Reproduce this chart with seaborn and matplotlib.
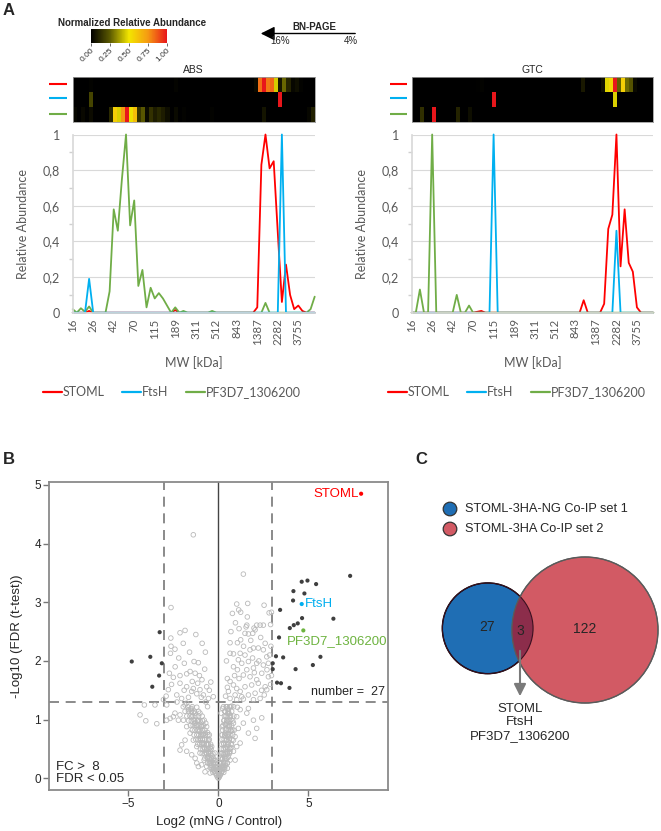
import numpy as np
import pandas as pd
import matplotlib
matplotlib.use("Agg")
import matplotlib.pyplot as plt
import seaborn as sns
from matplotlib.colors import LinearSegmentedColormap, Normalize
from matplotlib.cm import ScalarMappable
from matplotlib.patches import Circle
from matplotlib.lines import Line2D

# ---------------- data ----------------
proteins = ['STOML', 'FtsH', 'PF3D7_1306200']
line_colors = {'STOML': '#ff0000', 'FtsH': '#00b0f0', 'PF3D7_1306200': '#70ad47'}
mw_labels = ['16', '26', '42', '70', '115', '189', '311', '512', '843', '1387', '2282', '3755']
cbar_labels = ['0.00', '0.25', '0.50', '0.75', '1.00']

# 60 BN-PAGE fractions, relative abundance
abs_stoml = [0, 0, 0, 0, 0.01, 0, 0, 0, 0, 0,
             0, 0, 0, 0, 0, 0, 0, 0, 0, 0,
             0, 0, 0, 0, 0, 0.015, 0, 0, 0, 0,
             0, 0, 0, 0, 0, 0, 0, 0, 0, 0,
             0, 0, 0, 0, 0, 0.03, 0.83, 1.0, 0.81, 0.85,
             0.45, 0.06, 0.27, 0.10, 0.02, 0.04, 0.01, 0, 0, 0]
abs_ftsh = [0, 0, 0, 0, 0.19, 0, 0, 0, 0, 0,
            0, 0, 0, 0, 0, 0, 0, 0, 0, 0,
            0, 0, 0, 0, 0, 0, 0, 0, 0, 0,
            0, 0, 0, 0, 0, 0, 0, 0, 0, 0,
            0, 0, 0, 0, 0, 0, 0, 0, 0, 0,
            0, 1.0, 0, 0, 0, 0, 0, 0, 0, 0]
abs_pf = [0.02, 0, 0.025, 0.005, 0.035, 0, 0, 0, 0, 0.12,
          0.58, 0.46, 0.75, 1.0, 0.49, 0.63, 0.15, 0.24, 0.03, 0.14,
          0.08, 0.11, 0.08, 0.04, 0, 0.03, 0, 0.01, 0, 0,
          0, 0, 0, 0, 0.01, 0, 0, 0, 0, 0,
          0, 0, 0, 0, 0, 0, 0, 0.055, 0, 0,
          0, 0, 0, 0, 0, 0, 0, 0, 0.02, 0.09]

gtc_stoml = [0, 0, 0, 0, 0, 0, 0, 0, 0, 0,
             0, 0, 0, 0, 0, 0, 0.005, 0.01, 0, 0,
             0, 0, 0, 0, 0, 0, 0, 0, 0, 0,
             0, 0, 0, 0, 0, 0, 0, 0, 0, 0,
             0, 0, 0.07, 0, 0, 0, 0, 0.05, 0.47, 0.55,
             1.0, 0.26, 0.58, 0.28, 0.23, 0.03, 0, 0, 0, 0]
gtc_ftsh = [0, 0, 0, 0, 0, 0, 0, 0, 0, 0,
            0, 0, 0, 0, 0, 0, 0, 0, 0, 0,
            1.0, 0, 0, 0, 0, 0, 0, 0, 0, 0,
            0, 0, 0, 0, 0, 0, 0, 0, 0, 0,
            0, 0, 0, 0, 0, 0, 0, 0, 0, 0,
            0.46, 0, 0, 0, 0, 0, 0, 0, 0, 0]
gtc_pf = [0, 0, 0.13, 0, 0, 1.0, 0, 0, 0, 0,
          0, 0.10, 0, 0, 0.04, 0, 0, 0, 0, 0,
          0, 0, 0, 0, 0, 0, 0, 0, 0, 0,
          0, 0, 0, 0, 0, 0, 0, 0, 0, 0,
          0, 0, 0, 0, 0, 0, 0, 0, 0, 0,
          0, 0, 0, 0, 0, 0, 0, 0, 0, 0]

# volcano: non-significant proteins (log2 FC, -log10 FDR)
grey_core = [(0.0, 0.0), (-0.05, 0.02), (0.05, 0.02), (-0.1, 0.05), (0.1, 0.05), (0.0, 0.06),
             (-0.15, 0.08), (0.15, 0.08), (-0.04, 0.1), (0.06, 0.11), (-0.2, 0.12), (0.2, 0.12),
             (-0.1, 0.15), (0.12, 0.16), (-0.25, 0.17), (0.25, 0.17), (-0.3, 0.1), (0.3, 0.1),
             (-0.18, 0.2), (0.18, 0.21), (-0.35, 0.15), (0.35, 0.15), (-0.4, 0.22), (0.4, 0.22),
             (-0.28, 0.26), (0.3, 0.27), (-0.5, 0.25), (0.5, 0.26), (-0.45, 0.32), (0.42, 0.33),
             (-0.2, 0.3), (0.2, 0.32), (-0.6, 0.35), (0.55, 0.36), (-0.35, 0.38), (0.3, 0.4),
             (-0.55, 0.45), (0.48, 0.45), (-0.7, 0.44), (0.6, 0.44), (-0.45, 0.52), (0.38, 0.52),
             (-0.8, 0.52), (0.7, 0.52), (-0.62, 0.58), (0.52, 0.58), (-0.9, 0.6), (0.44, 0.66),
             (-0.75, 0.66), (0.62, 0.68), (-1.0, 0.68), (0.36, 0.72), (-0.88, 0.74), (0.55, 0.76),
             (-0.6, 0.78), (0.72, 0.8), (-1.05, 0.8), (0.45, 0.84), (-0.95, 0.88), (0.62, 0.9),
             (-1.2, 0.9), (0.38, 0.92), (-0.7, 0.94), (0.5, 0.98), (-1.15, 0.98), (0.7, 1.0),
             (-1.35, 1.0), (0.42, 1.06), (-0.9, 1.06), (0.6, 1.1), (-1.4, 1.12), (0.35, 1.14),
             (-1.1, 1.14), (0.5, 1.18), (-1.55, 1.18), (0.28, 1.22), (-0.6, 1.22), (0.66, 1.22)]
grey_dense = [(-0.45, 0.18), (-0.35, 0.18), (-0.25, 0.18), (-0.15, 0.18), (-0.05, 0.18), (0.05, 0.18),
              (0.15, 0.18), (0.25, 0.18), (0.35, 0.18),
              (-0.6, 0.26), (-0.5, 0.26), (-0.4, 0.26), (-0.3, 0.26), (-0.2, 0.26), (0.1, 0.26),
              (0.2, 0.26), (0.3, 0.26), (0.4, 0.26), (0.5, 0.26),
              (-0.75, 0.34), (-0.62, 0.34), (-0.5, 0.34), (-0.38, 0.34), (-0.26, 0.34), (0.12, 0.34),
              (0.24, 0.34), (0.36, 0.34), (0.48, 0.34),
              (-0.9, 0.42), (-0.78, 0.42), (-0.66, 0.42), (-0.54, 0.42), (-0.42, 0.42), (-0.3, 0.42),
              (0.14, 0.42), (0.26, 0.42), (0.38, 0.42), (0.5, 0.42), (0.62, 0.42),
              (-1.0, 0.5), (-0.88, 0.5), (-0.76, 0.5), (-0.64, 0.5), (-0.52, 0.5), (-0.4, 0.5),
              (0.16, 0.5), (0.28, 0.5), (0.4, 0.5), (0.52, 0.5), (0.64, 0.5),
              (-1.15, 0.58), (-1.03, 0.58), (-0.91, 0.58), (-0.79, 0.58), (-0.67, 0.58), (-0.55, 0.58),
              (-0.43, 0.58), (0.18, 0.58), (0.3, 0.58), (0.42, 0.58), (0.56, 0.58), (0.7, 0.58),
              (-1.25, 0.66), (-1.12, 0.66), (-1.0, 0.66), (-0.88, 0.66), (-0.76, 0.66), (-0.64, 0.66),
              (-0.5, 0.66), (0.2, 0.66), (0.32, 0.66), (0.48, 0.66), (0.6, 0.66), (0.76, 0.66),
              (-1.35, 0.74), (-1.2, 0.74), (-1.08, 0.74), (-0.96, 0.74), (-0.84, 0.74), (-0.72, 0.74),
              (-0.58, 0.74), (0.22, 0.74), (0.36, 0.74), (0.5, 0.74), (0.64, 0.74), (0.8, 0.74),
              (-1.45, 0.82), (-1.3, 0.82), (-1.16, 0.82), (-1.02, 0.82), (-0.88, 0.82), (-0.74, 0.82),
              (0.24, 0.82), (0.4, 0.82), (0.56, 0.82), (0.7, 0.82), (0.88, 0.82),
              (-1.55, 0.9), (-1.4, 0.9), (-1.26, 0.9), (-1.1, 0.9), (-0.96, 0.9), (-0.82, 0.9),
              (0.26, 0.9), (0.42, 0.9), (0.58, 0.9), (0.74, 0.9),
              (-1.65, 0.98), (-1.5, 0.98), (-1.34, 0.98), (-1.18, 0.98), (-1.02, 0.98), (-0.88, 0.98),
              (0.3, 0.98), (0.46, 0.98), (0.62, 0.98), (0.8, 0.98),
              (-1.75, 1.06), (-1.58, 1.06), (-1.42, 1.06), (-1.26, 1.06), (-1.1, 1.06), (0.34, 1.06),
              (0.5, 1.06), (0.68, 1.06), (0.86, 1.06),
              (-1.85, 1.14), (-1.66, 1.14), (-1.5, 1.14), (-1.32, 1.14), (0.38, 1.14), (0.56, 1.14),
              (0.74, 1.14), (-1.95, 1.22), (-1.7, 1.22), (-1.45, 1.22), (0.44, 1.22), (0.62, 1.22),
              (0.85, 1.22)]
grey_left = [(-1.39, 4.15), (-2.63, 2.91), (-1.85, 2.52), (-2.13, 2.48), (-2.64, 2.39), (-2.63, 2.25),
             (-2.41, 2.20), (-2.66, 2.13), (-0.72, 2.15), (-1.35, 1.99), (-1.11, 1.97), (-1.89, 1.96),
             (-0.76, 1.86), (-2.72, 1.79), (-2.50, 1.72), (-2.13, 1.75), (-1.76, 1.78), (-1.57, 1.82),
             (-1.29, 1.79), (-1.05, 1.75), (-0.91, 1.68), (-0.42, 1.64), (-2.13, 1.62), (-1.76, 1.56),
             (-1.39, 1.53), (-1.02, 1.51), (-1.48, 1.48), (-1.20, 1.44), (-0.83, 1.42), (-2.31, 1.42),
             (-2.04, 1.36), (-1.66, 1.38), (-0.65, 1.56), (-2.78, 1.51), (-0.55, 1.36), (-0.28, 1.39),
             (-2.4, 1.9), (-2.2, 2.05), (-1.95, 2.3), (-1.6, 2.15), (-1.45, 1.65), (-1.15, 1.62),
             (-0.95, 1.38), (-0.7, 1.3), (-1.9, 1.5), (-2.6, 1.6), (-2.9, 1.4), (-2.3, 1.3),
             (-0.5, 1.5), (-1.25, 2.45), (-0.9, 2.3),
             (-0.28, 0.14), (-0.43, 0.26), (-0.55, 0.37), (-0.68, 0.48), (-0.83, 0.60), (-0.98, 0.71),
             (-1.11, 0.82), (-1.29, 0.94), (-1.48, 1.05), (-1.66, 1.17), (-1.85, 1.25), (-0.79, 0.31),
             (-1.02, 0.43), (-1.20, 0.54), (-1.39, 0.65), (-1.57, 0.77), (-1.76, 0.88), (-1.94, 0.99),
             (-2.13, 1.08), (-2.04, 0.57), (-2.13, 0.48), (-1.85, 0.65), (-0.65, 0.20), (-0.93, 0.23),
             (-1.20, 0.26), (-0.55, 0.65), (-0.74, 0.77), (-0.93, 0.88), (-1.11, 0.99), (-1.29, 1.11),
             (-1.48, 1.19), (-1.76, 1.28), (-0.46, 0.46), (-0.31, 0.31), (-0.37, 0.54), (-0.50, 0.74),
             (-0.65, 0.88), (-0.79, 0.99), (-1.02, 1.11), (-1.20, 1.21), (-0.09, 0.20), (-0.19, 0.31),
             (-0.19, 0.43), (-2.50, 1.05), (-2.68, 1.02), (-2.87, 0.99), (-2.22, 0.99), (-2.41, 1.11),
             (-2.87, 1.25), (-3.05, 1.34), (-4.11, 1.25), (-3.52, 1.25), (-4.35, 1.08), (-4.03, 0.98),
             (-3.42, 0.93), (-1.29, 0.34), (-1.48, 0.40), (-1.76, 0.46), (-1.11, 0.20), (-0.74, 0.11),
             (-0.46, 0.09)]
grey_right = [(1.39, 3.48), (1.02, 2.97), (1.63, 2.98), (0.78, 2.81), (1.13, 2.87), (1.24, 2.83),
              (1.61, 2.75), (2.54, 2.95), (2.82, 2.82), (1.54, 2.58), (1.98, 2.56), (2.95, 2.83),
              (2.9, 2.62), (2.92, 2.25), (2.95, 1.75), (2.9, 1.6), (0.65, 2.31), (1.06, 2.31),
              (1.24, 2.36), (1.48, 2.47), (1.67, 2.46), (1.91, 2.47), (2.13, 2.61), (2.32, 2.61),
              (2.50, 2.61), (1.58, 2.61), (2.04, 2.53), (0.65, 2.13), (0.84, 2.12), (1.21, 2.13),
              (1.48, 2.10), (1.76, 2.19), (1.95, 2.22), (2.22, 2.22), (2.50, 2.19), (2.69, 2.07),
              (1.11, 2.02), (1.30, 1.96), (1.67, 1.99), (2.13, 1.96), (2.50, 1.93), (2.78, 1.96),
              (0.84, 1.90), (1.06, 1.85), (1.58, 1.85), (1.95, 1.88), (1.39, 1.76), (1.76, 1.73),
              (2.13, 1.68), (2.41, 1.79), (2.78, 1.73), (0.65, 1.65), (0.84, 1.59), (1.02, 1.53),
              (1.21, 1.48), (1.48, 1.56), (1.85, 1.59), (2.22, 1.62), (2.60, 1.56), (2.69, 1.51),
              (0.56, 1.48), (0.93, 1.42), (1.30, 1.39), (1.67, 1.42), (2.04, 1.45), (0.65, 1.36),
              (1.02, 1.34), (1.39, 1.35), (1.95, 1.34), (2.32, 1.36), (1.21, 1.17), (1.67, 1.19),
              (0.4, 1.4), (0.5, 1.7), (0.45, 2.0), (0.7, 2.5), (0.95, 2.65), (1.15, 2.55),
              (1.8, 2.35), (2.35, 2.4), (2.6, 2.3), (2.85, 2.1), (2.4, 1.5), (2.55, 1.42),
              (1.15, 1.7), (1.9, 2.05), (0.5, 1.55), (0.9, 1.75), (1.4, 2.25), (2.0, 1.8),
              (2.25, 2.0), (2.7, 1.85),
              (1.95, 0.99), (2.41, 1.03), (2.13, 0.85), (1.67, 0.77), (2.04, 0.68), (1.39, 0.94),
              (1.02, 1.05), (1.11, 0.85), (0.84, 0.65), (1.21, 0.60), (0.65, 0.46), (0.93, 0.31),
              (1.58, 1.11), (0.09, 0.26), (0.19, 0.43), (0.28, 0.60), (0.37, 0.77), (0.46, 0.94),
              (0.52, 1.11), (0.56, 1.17), (0.65, 1.05), (0.59, 0.88), (0.52, 0.71), (0.46, 0.54),
              (0.37, 0.37), (0.28, 0.20), (0.19, 0.11), (0.04, 0.06), (0.33, 0.99), (0.22, 0.88),
              (0.19, 0.74), (0.84, 0.94), (0.80, 0.82), (0.93, 0.71), (0.74, 0.57), (0.65, 0.31),
              (0.50, 0.17), (0.84, 0.46), (1.02, 0.54), (0.15, 1.11), (0.24, 1.19), (0.46, 1.22),
              (0.74, 1.23), (1.06, 1.21)]
# significant proteins (FC > 8, FDR < 0.05)
sig_pts = [(-4.81, 1.99), (-3.26, 2.49), (-3.78, 2.07), (-3.14, 1.96), (-3.29, 1.75), (-3.67, 1.56),
           (4.63, 3.35), (4.95, 3.37), (5.43, 3.31), (4.17, 3.19), (4.78, 3.15), (4.15, 3.03),
           (3.43, 2.87), (6.39, 2.72), (4.65, 2.73), (4.41, 2.64), (4.19, 2.61), (3.97, 2.56),
           (3.37, 2.40), (7.32, 3.45), (3.02, 1.96), (3.02, 1.86), (3.20, 2.08), (3.60, 2.06),
           (3.26, 1.63), (3.48, 1.62), (3.95, 1.54), (4.29, 1.86), (5.25, 1.93), (5.67, 2.07)]
hits = ['STOML', 'FtsH', 'PF3D7_1306200']
hit_x = [7.93, 4.63, 4.72]
hit_y = [4.85, 2.97, 2.52]
hit_colors = ['#ff0000', '#00aeef', '#6db33f']

# Venn counts
venn_sets = ['STOML-3HA-NG Co-IP set 1', 'STOML-3HA Co-IP set 2']
only_1, shared, only_2 = 27, 3, 122
shared_names = ['STOML', 'FtsH', 'PF3D7_1306200']

# ---------------- figure ----------------
sns.set_theme(style='white')
plt.rcParams['font.family'] = ['Liberation Sans', 'DejaVu Sans']
W, H = 661, 831
fig = plt.figure(figsize=(W / 100, H / 100), dpi=100)


def px_axes(x0, y0, x1, y1):
    return fig.add_axes([x0 / W, 1 - y1 / H, (x1 - x0) / W, (y1 - y0) / H])


cmap = LinearSegmentedColormap.from_list(
    'nra', ['#000000', '#5c5a00', '#f3e600', '#f59a12', '#e8161b'])
xl_font = 'Lato'
grey_txt = '#595959'

# colour bar
cax = px_axes(91, 29, 167, 43)
cb = fig.colorbar(ScalarMappable(norm=Normalize(0, 1), cmap=cmap), cax=cax, orientation='horizontal')
cb.set_ticks([0, 0.25, 0.5, 0.75, 1.0])
cb.set_ticklabels(cbar_labels)
cb.outline.set_visible(False)
cax.tick_params(labelsize=6, length=2, width=0.5, pad=1, colors='#333333')
for t in cax.get_xticklabels():
    t.set_rotation(45)
    t.set_ha('right')
    t.set_rotation_mode('anchor')


def profile_panel(x0, x1, name, values, order):
    # heat strip
    hax = px_axes(x0, 77, x1, 122)
    mat = pd.DataFrame([values[p] for p in proteins], index=proteins)
    sns.heatmap(mat, cmap=cmap, vmin=0, vmax=1, cbar=False, ax=hax,
                xticklabels=False, yticklabels=False)
    hax.set_title(name, fontsize=7.5, pad=3)
    for s in hax.spines.values():
        s.set_visible(True)
        s.set_color('#9a9a9a')
        s.set_linewidth(0.6)

    # line plot
    ax = px_axes(x0, 134.5, x1, 312.7)
    df = pd.DataFrame({'fraction': np.tile(np.arange(60), 3),
                       'abundance': np.concatenate([values[p] for p in proteins]),
                       'protein': np.repeat(proteins, 60)})
    sns.lineplot(data=df, x='fraction', y='abundance', hue='protein', hue_order=order,
                 palette=line_colors, linewidth=1.3, legend=False, ax=ax, clip_on=False)
    ax.set_xlim(0, 59)
    ax.set_ylim(0, 1)
    ax.set_yticks([0, 0.2, 0.4, 0.6, 0.8, 1.0])
    ax.set_yticklabels(['0', '0,2', '0,4', '0,6', '0,8', '1'])
    ax.set_yticks(np.arange(0.1, 1.0, 0.2), minor=True)
    ax.set_xticks(np.arange(0, 60, 5))
    ax.set_xticklabels(mw_labels, rotation=90)
    ax.grid(axis='y', color='#d9d9d9', linewidth=0.8)
    ax.set_axisbelow(True)
    for side in ['top', 'right']:
        ax.spines[side].set_visible(False)
    for side in ['left', 'bottom']:
        ax.spines[side].set_color('#d9d9d9')
    ax.tick_params(axis='y', which='major', length=0, pad=9, labelsize=9, labelcolor=grey_txt)
    ax.tick_params(axis='y', which='minor', length=3, color='#d0d0d0', left=True)
    ax.tick_params(axis='x', length=0, pad=4, labelsize=8.3, labelcolor=grey_txt)
    for t in ax.get_xticklabels() + ax.get_yticklabels():
        t.set_fontfamily(xl_font)
    ax.set_xlabel('MW [kDa]', fontsize=9, color=grey_txt, family=xl_font, labelpad=8)
    ax.set_ylabel('Relative Abundance', fontsize=9, color=grey_txt, family=xl_font, labelpad=10)
    return hax, ax


profile_panel(72.7, 314.7, 'ABS',
              {'STOML': abs_stoml, 'FtsH': abs_ftsh, 'PF3D7_1306200': abs_pf},
              ['STOML', 'PF3D7_1306200', 'FtsH'])
profile_panel(411.7, 653.3, 'GTC',
              {'STOML': gtc_stoml, 'FtsH': gtc_ftsh, 'PF3D7_1306200': gtc_pf},
              ['STOML', 'FtsH', 'PF3D7_1306200'])

handles = [Line2D([], [], color=line_colors[p], lw=1.6) for p in proteins]
for cx in [172, 517]:
    fig.legend(handles, proteins, loc='center', bbox_to_anchor=(cx / W, 1 - 392 / H), ncol=3,
               frameon=False, handlelength=1.5, handletextpad=0.1, columnspacing=1.4,
               prop={'family': xl_font, 'size': 9}, labelcolor=grey_txt)

# ---------------- volcano ----------------
vax = px_axes(49.3, 482, 388.3, 790)
grey_all = grey_core + grey_dense + grey_left + grey_right
sns.scatterplot(x=[p[0] for p in grey_all], y=[p[1] for p in grey_all], ax=vax,
                marker='o', s=11, facecolor='none', edgecolor='#b9b9b9', linewidth=0.6, zorder=2)
sns.scatterplot(x=[p[0] for p in sig_pts], y=[p[1] for p in sig_pts], ax=vax,
                marker='o', s=9, color='#3f3f3f', edgecolor='none', zorder=3)
sns.scatterplot(x=hit_x, y=hit_y, hue=hits, palette=hit_colors, ax=vax, legend=False,
                marker='o', s=9, edgecolor='none', zorder=4)
vax.set_xlim(-9.39, 9.44)
vax.set_ylim(-0.2, 5.05)
vax.axvline(0, color='#444444', lw=1.0, zorder=1)
for xv in [-3, 3]:
    vax.axvline(xv, color='#777777', lw=1.2, dashes=(6, 4), zorder=1)
vax.axhline(1.301, color='#777777', lw=1.2, dashes=(6, 4), zorder=1)
vax.set_xticks([-5, 0, 5])
vax.set_yticks([0, 1, 2, 3, 4, 5])
vax.tick_params(length=4, width=1, color='#777777', labelsize=8.5, pad=2, bottom=True, left=True)
for s in vax.spines.values():
    s.set_color('#8a8a8a')
    s.set_linewidth(1.3)
vax.set_xlabel('Log2 (mNG / Control)', fontsize=9.5, labelpad=4)
vax.set_ylabel('-Log10 (FDR (t-test))', fontsize=9.5, labelpad=8)
vax.text(7.8, hit_y[0], hits[0], color=hit_colors[0], fontsize=9.5, ha='right', va='center')
vax.text(hit_x[1] + 0.2, hit_y[1], hits[1], color=hit_colors[1], fontsize=9.5, ha='left', va='center')
vax.text(3.83, 2.33, hits[2], color=hit_colors[2], fontsize=9.5, ha='left', va='center')
vax.text(9.25, 1.36, 'number =  27', fontsize=9, ha='right', va='bottom')
vax.text(-9.0, 0.2, 'FC >  8', fontsize=9.5, ha='left', va='center')
vax.text(-9.0, -0.02, 'FDR < 0.05', fontsize=9.5, ha='left', va='center')

# ---------------- overlay: labels, arrow, venn ----------------
ov = fig.add_axes([0, 0, 1, 1])
ov.set_xlim(0, W)
ov.set_ylim(H, 0)
ov.axis('off')

for lab, (lx, ly) in zip('ABC', [(3, 3), (3, 452), (415, 452)]):
    ov.text(lx, ly, lab, fontsize=12, fontweight='bold', ha='left', va='top')

ov.text(132, 23, 'Normalized Relative Abundance', fontsize=7, fontweight='bold', ha='center', va='center')
ov.annotate('', xy=(258, 33.5), xytext=(358, 33.5),
            arrowprops=dict(arrowstyle='-|>,head_length=0.7,head_width=0.35', color='black', lw=1))
ov.text(314, 27, 'BN-PAGE', fontsize=7, fontweight='bold', ha='center', va='center')
ov.text(270, 41.5, '16%', fontsize=7, ha='left', va='center')
ov.text(357.5, 41.5, '4%', fontsize=7, ha='right', va='center')

for dx in [(49, 67), (390, 407)]:
    for yy, p in zip([84, 98.3, 114], proteins):
        ov.plot(dx, [yy, yy], color=line_colors[p], lw=1.5, solid_capstyle='butt')

# venn (radius grows with cube root of set size)
r1 = 14.6 * (only_1 + shared) ** (1 / 3)
r2 = 14.6 * (only_2 + shared) ** (1 / 3)
c1 = (487.7, 628.3)
c2 = (585.0, 630.0)
blue, red, dark = '#1f6eb4', '#d25a64', '#8c2d4b'
circ1 = Circle(c1, r1, facecolor=blue, edgecolor='black', lw=1.0, zorder=2)
circ2 = Circle(c2, r2, facecolor=red, edgecolor='#606060', lw=1.0, zorder=3)
inter = Circle(c2, r2, facecolor=dark, edgecolor='none', zorder=4)
ov.add_patch(circ1)
ov.add_patch(circ2)
ov.add_patch(inter)
inter.set_clip_path(Circle(c1, r1, transform=ov.transData))
ov.add_patch(Circle(c1, r1, facecolor='none', edgecolor='#3a1020', lw=0.8, zorder=5))
ov.add_patch(Circle(c2, r2, facecolor='none', edgecolor='#5a5a5a', lw=0.8, zorder=5))
ov.text(c1[0] - 0.5, c1[1] - 1, str(only_1), fontsize=10, ha='center', va='center', zorder=6)
ov.text(520, 631, str(shared), fontsize=10, ha='center', va='center', zorder=6)
ov.text(c2[0], c2[1] - 1, str(only_2), fontsize=10, ha='center', va='center', zorder=6)
ov.annotate('', xy=(520, 699), xytext=(520, 648),
            arrowprops=dict(arrowstyle='-|>,head_length=0.6,head_width=0.3', color='#7a7a7a', lw=1.5),
            zorder=7)
ov.text(520, 703, '\n'.join(shared_names), fontsize=9.5, ha='center', va='top', linespacing=1.15)

for yy, col, lab in zip([509, 529], [blue, red], venn_sets):
    ov.add_patch(Circle((450, yy), 6.8, facecolor=col, edgecolor='#333333', lw=0.9))
    ov.text(465, yy, lab, fontsize=9.2, ha='left', va='center')

fig.savefig('out.png', dpi=100)
